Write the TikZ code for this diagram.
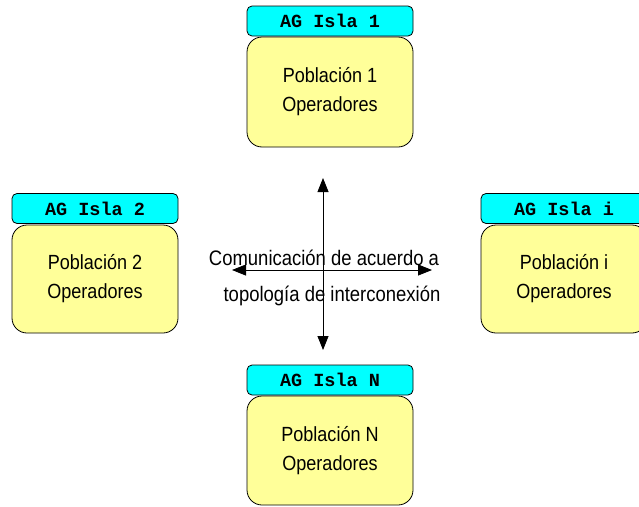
\documentclass[tikz,border=0pt]{standalone}
\usepackage{fontspec}
\setmainfont[FakeStretch=0.88]{Liberation Sans}
\newfontfamily\hdrfont{Liberation Mono}
\usetikzlibrary{arrows.meta}
\definecolor{hdrcyan}{HTML}{00FFFF}
\definecolor{bodyyel}{HTML}{FFFF99}
\begin{document}
\begin{tikzpicture}[x=1pt,y=-1pt,
  hdr/.style={draw=black,line width=0.8pt,fill=hdrcyan,rounded corners=5pt,minimum width=166pt,minimum height=30pt,inner sep=0pt,font=\hdrfont\bfseries\fontsize{18.5}{18}\selectfont},
  bodybox/.style={draw=black,line width=0.8pt,fill=bodyyel,rounded corners=15pt,minimum width=166pt,minimum height=109pt,inner sep=0pt,align=center,font=\fontsize{20.5}{29}\selectfont},
  lbl/.style={inner sep=0pt,font=\fontsize{21}{21}\selectfont},
  arr/.style={line width=0.8pt,{Triangle[length=14pt,width=11pt]}-{Triangle[length=14pt,width=11pt]}}]
\useasboundingbox (0,0) rectangle (639,506);
\clip (0,0) rectangle (639,506);
\fill[white] (0,0) rectangle (639,506);
% top
\node[hdr] (h1) at (330,21) {AG Isla 1};
\node[bodybox,minimum height=110pt] (b1) at (330,92) {Población 1\\Operadores};
% left
\node[hdr] (h2) at (95,208.5) {AG Isla 2};
\node[bodybox,minimum height=108pt] (b2) at (95,279) {Población 2\\Operadores};
% right
\node[hdr] (hi) at (564,208.5) {AG Isla i};
\node[bodybox,minimum height=108pt] (bi) at (564,279) {Población i\\Operadores};
% bottom
\node[hdr] (hn) at (330,380) {AG Isla N};
\node[bodybox] (bn) at (330,450.5) {Población N\\Operadores};
% arrows
\coordinate (up) at (323,178);
\coordinate (down) at (323,350);
\coordinate (left) at (232,270);
\coordinate (right) at (432,270);
\draw[arr] (up) -- (down);
\draw[arr] (left) -- (right);
\node[lbl] (t1) at (324,258) {Comunicación de acuerdo a};
\node[lbl] (t2) at (332,296) {topología de interconexión};
\end{tikzpicture}
\end{document}
